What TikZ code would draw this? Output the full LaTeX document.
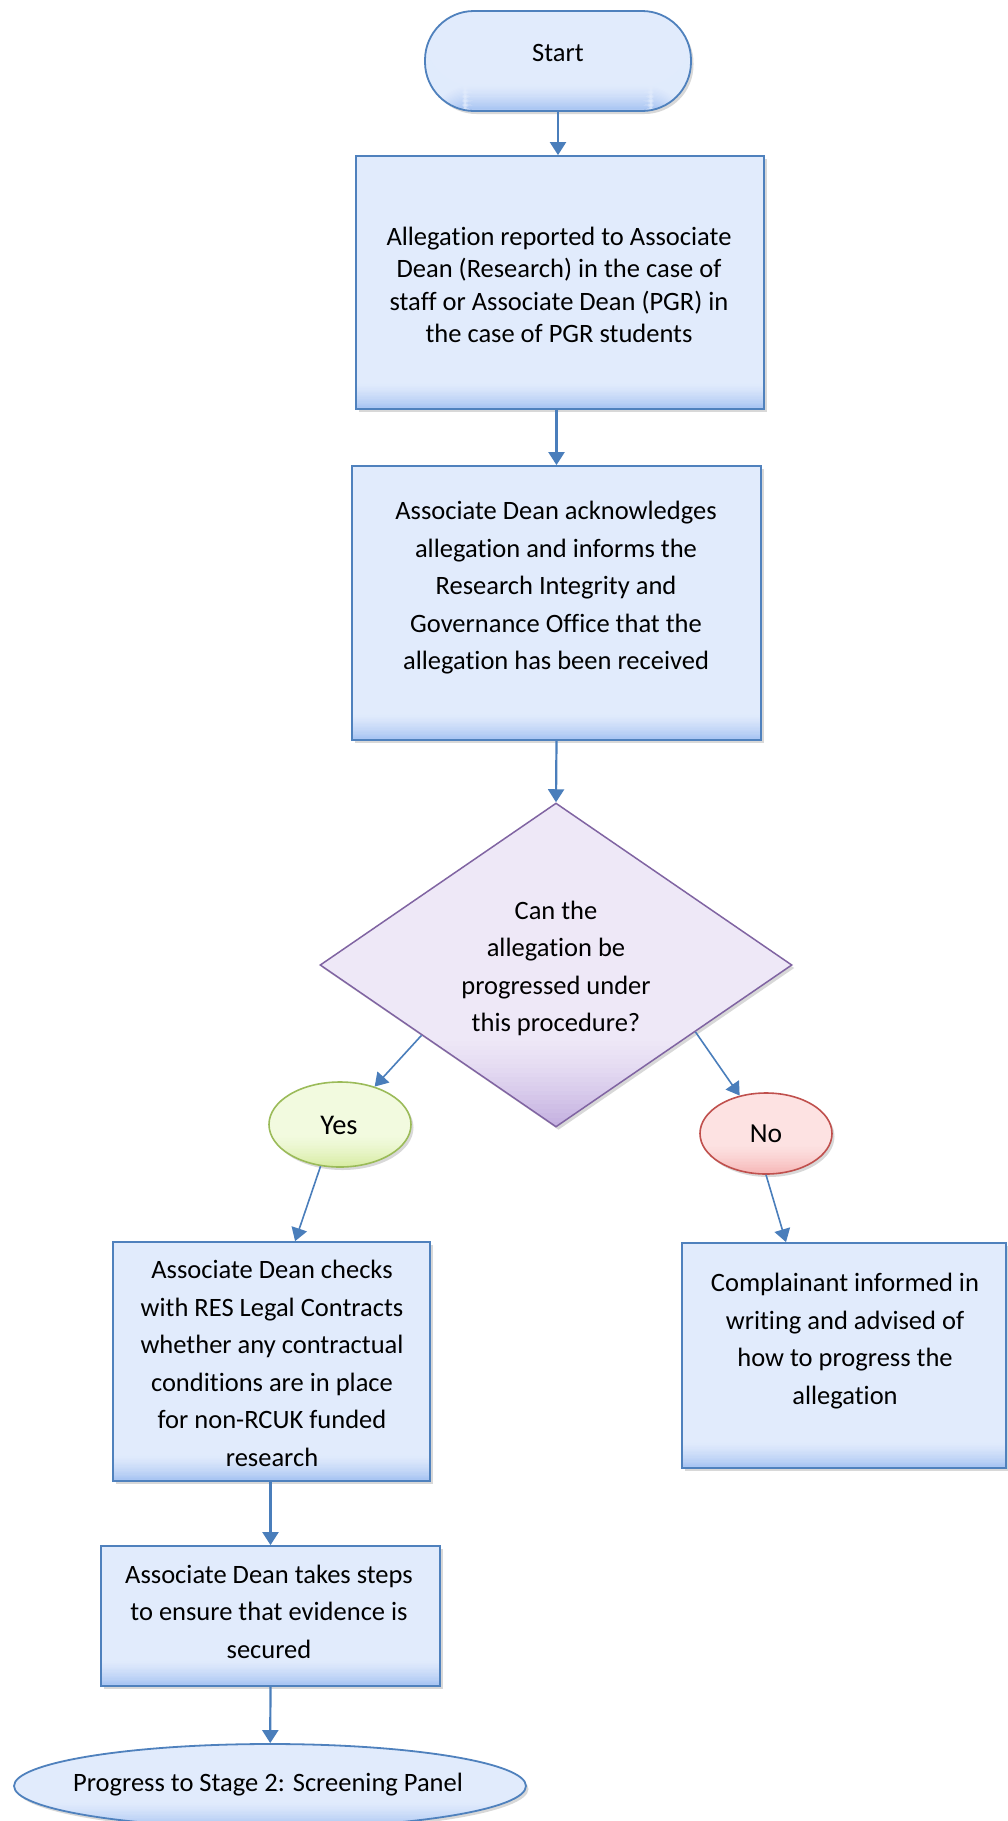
\documentclass[tikz,border=0pt]{standalone}
\usepackage{fontspec}
\setmainfont{Carlito}[Ligatures={NoCommon,NoRare}]
\usetikzlibrary{shapes.geometric,arrows.meta,shadows,calc}
\definecolor{boxfill}{HTML}{E1EBFC}
\definecolor{boxdark}{HTML}{A6C3F2}
\definecolor{boxline}{HTML}{4F81BD}
\definecolor{arrowc}{HTML}{4A7EBB}
\definecolor{diafill}{HTML}{EEE8F7}
\definecolor{diadark}{HTML}{C4B0E0}
\definecolor{dialine}{HTML}{8064A2}
\definecolor{yesfill}{HTML}{F2FADF}
\definecolor{yesdark}{HTML}{D8ECA4}
\definecolor{yesline}{HTML}{9BBB59}
\definecolor{nofill}{HTML}{FDE2E2}
\definecolor{nodark}{HTML}{F6B6B6}
\definecolor{noline}{HTML}{C0504D}
\tikzset{
  shd/.style={drop shadow={shadow xshift=2.5pt,shadow yshift=-3pt,opacity=0.3,fill=black!50}},
  band/.style n args={3}{fill=#1,path picture={
    \foreach \k in {0,...,19}{
      \pgfmathtruncatemacro\pc{100*(1-\k/20)^1.4}
      \fill[#2!\pc!#1] ([yshift=\k*#3/20]path picture bounding box.south west) rectangle ([yshift=(\k+1)*#3/20+0.4pt]path picture bounding box.south east);
    }}},
  procbox/.style={rectangle,draw=boxline,line width=1.8pt,band={boxfill}{boxdark}{26pt},shd,inner sep=0pt},
  txt/.style={align=center,inner sep=0pt,font=\fontsize{26.5}{37.5}\selectfont},
  arr/.style={draw=arrowc,line width=2.2pt,-{Triangle[width=16pt,length=13pt]}},
  sarr/.style={arr,line width=1.6pt}
}
\begin{document}
\begin{tikzpicture}[x=1pt,y=-1pt]
\fill[white] (0,0) rectangle (1008,1821);
\useasboundingbox (0,0) rectangle (1008,1821);
% shapes
\node[procbox,rounded corners=49pt,minimum width=266pt,minimum height=100pt] (start) at (558,61) {};
\node[procbox,minimum width=408pt,minimum height=253pt] (box1) at (560,282.5) {};
\node[procbox,minimum width=409pt,minimum height=274pt] (box2) at (556.5,603) {};
\node[diamond,draw=dialine,line width=1.5pt,band={diafill}{diadark}{90pt},shd,minimum width=472pt,minimum height=324pt,inner sep=0pt] (dia) at (556,965) {};
\node[ellipse,draw=yesline,line width=1.6pt,band={yesfill}{yesdark}{32pt},shd,minimum width=142pt,minimum height=85pt,inner sep=0pt] (yes) at (340,1124.5) {};
\node[ellipse,draw=noline,line width=1.6pt,band={nofill}{nodark}{30pt},shd,minimum width=132pt,minimum height=81pt,inner sep=0pt] (no) at (766,1133.5) {};
\node[procbox,minimum width=317pt,minimum height=239pt] (box3) at (271.5,1361.5) {};
\node[procbox,minimum width=324pt,minimum height=225pt] (box4) at (844,1355.5) {};
\node[procbox,minimum width=339pt,minimum height=140pt] (box5) at (270.5,1616) {};
\node[ellipse,draw=boxline,line width=1.8pt,band={boxfill}{boxdark}{26pt},shd,minimum width=512pt,minimum height=84pt,inner sep=0pt] (final) at (270,1786) {};
% texts
\node[txt] (t0) at (558,53) {Start};
\node[txt,font=\fontsize{26.5}{32.4}\selectfont] (t1) at (559,284.7) {Allegation reported to Associate\\Dean (Research) in the case of\\staff or Associate Dean (PGR) in\\the case of PGR students};
\node[txt] (t2) at (556,588) {Associate Dean acknowledges\\allegation and informs the\\Research Integrity and\\Governance Office that the\\allegation has been received};
\node[txt] (td) at (556,968.5) {Can the\\allegation be\\progressed under\\this procedure?};
\node[txt,font=\fontsize{28.5}{34}\selectfont] (ty) at (339,1125) {Yes};
\node[txt,font=\fontsize{27.5}{34}\selectfont] (tn) at (766,1134) {No};
\node[txt] (t3) at (272,1363.5) {Associate Dean checks\\with RES Legal Contracts\\whether any contractual\\conditions are in place\\for non-RCUK funded\\research};
\node[txt] (t4) at (845,1341) {Complainant informed in\\writing and advised of\\how to progress the\\allegation};
\node[txt] (t5) at (269,1611.5) {Associate Dean takes steps\\to ensure that evidence is\\secured};
\node[txt] (tf) at (268,1785) {Progress to Stage 2: Screening Panel};
% connectors
\draw[arr] (start.south) -- (start.south |- box1.north);
\draw[arr] (box2.north |- box1.south) -- (box2.north);
\draw[arr] (box2.south) -- (dia.north);
\draw[sarr] ($(dia.west)!0.432!(dia.south)$) -- (yes);
\draw[sarr] ($(dia.east)!0.411!(dia.south)$) -- (no);
\draw[sarr] (yes.-115) -- ($(box3.north west)!0.574!(box3.north east)$);
\draw[sarr] (no.south) -- ($(box4.north west)!0.322!(box4.north east)$);
\draw[arr] (box5.north |- box3.south) -- (box5.north);
\draw[arr] (box5.south) -- (final);
\end{tikzpicture}
\end{document}
